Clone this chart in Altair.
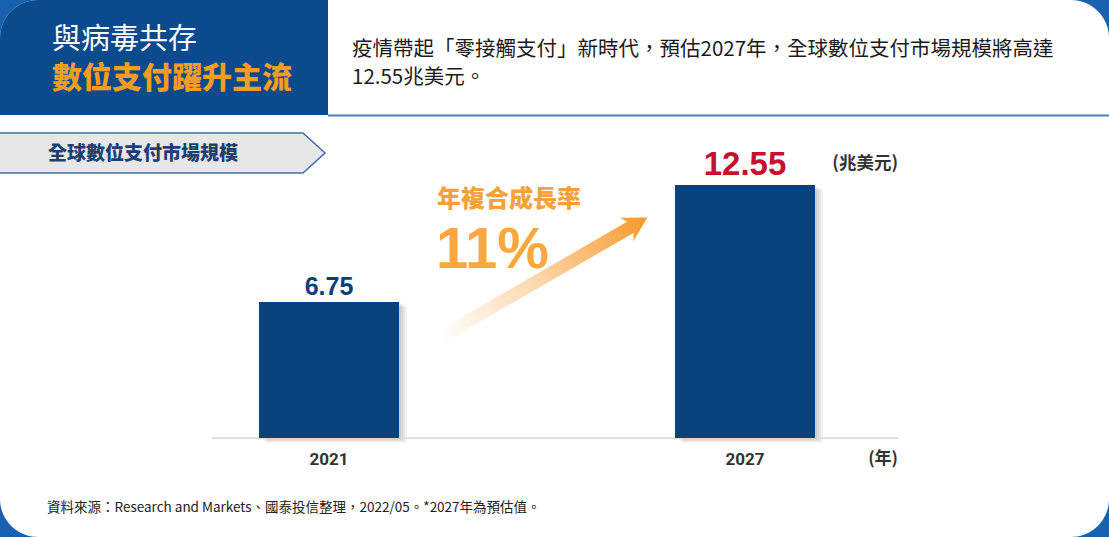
import altair as alt
import pandas as pd

# ---- data ----
years = ["2021", "2027"]
values = [6.75, 12.55]
value_labels = ["6.75", "12.55"]

title_line1 = "與病毒共存"
title_line2 = "數位支付躍升主流"
desc_line1 = "疫情帶起「零接觸支付」新時代，預估2027年，全球數位支付市場規模將高達"
desc_line2 = "12.55兆美元。"
tag_text = "全球數位支付市場規模"
cagr_title = "年複合成長率"
cagr_value = "11%"
unit_text = "(兆美元)"
year_unit = "(年)"
source_text = "資料來源：Research and Markets、國泰投信整理，2022/05。*2027年為預估值。"

df = pd.DataFrame({"year": years, "value": values, "label": value_labels})

CJK = "Noto Sans CJK TC"
NUM = "Liberation Sans, Arial, sans-serif"
W, H = 1109, 537

xs = alt.X("year:N", scale=alt.Scale(type="point", domain=years, range=[329, 745], padding=0), axis=None)
yscale = alt.Scale(domain=[0, 12.55], range=[438, 185], nice=False, zero=True)
ys = alt.Y("value:Q", scale=yscale, axis=None)

base = alt.Chart(df)
one = alt.Chart(pd.DataFrame({"k": [0]}))

# background + card
bg = one.mark_rect(color="#1761ae").encode(x=alt.value(0), x2=alt.value(W), y=alt.value(0), y2=alt.value(H))
card = one.mark_rect(color="#ffffff", cornerRadius=38).encode(x=alt.value(0), x2=alt.value(W), y=alt.value(0), y2=alt.value(H))
header = one.mark_rect(color="#0b4a8c", cornerRadiusTopLeft=38).encode(x=alt.value(0), x2=alt.value(328), y=alt.value(0), y2=alt.value(115))
sep = one.mark_rule(color="#4f80c0", strokeWidth=2).encode(x=alt.value(328), x2=alt.value(W), y=alt.value(115.5))

t1 = one.mark_text(text=title_line1, font=CJK, fontSize=29, fontWeight=400, color="#ffffff", align="left", baseline="middle").encode(x=alt.value(52), y=alt.value(40))
t2 = one.mark_text(text=title_line2, font=CJK, fontSize=30, fontWeight=900, color="#f59d1e", align="left", baseline="middle").encode(x=alt.value(52), y=alt.value(79))
d1 = one.mark_text(text=desc_line1, font=CJK, fontSize=20.5, fontWeight=400, color="#1a1a1a", align="left", baseline="middle").encode(x=alt.value(352), y=alt.value(50))
d2 = one.mark_text(text=desc_line2, font=CJK, fontSize=20.5, fontWeight=400, color="#1a1a1a", align="left", baseline="middle").encode(x=alt.value(352), y=alt.value(78))

# tag shape
tag_path = "M -1 -0.1194 L 0.8687 -0.1194 L 1 0 L 0.8687 0.1194 L -1 0.1194 Z"
tag = one.mark_point(shape=tag_path, size=335 * 335, fill="#e7e7e7", stroke="#3e6db0", strokeWidth=1.5,
                     filled=True, opacity=1, fillOpacity=1, strokeOpacity=1).encode(x=alt.value(157.5), y=alt.value(153))
tag_t = one.mark_text(text=tag_text, font=CJK, fontSize=19, fontWeight=900, color="#1c3f72", align="left", baseline="middle").encode(x=alt.value(48), y=alt.value(154))

# arrow
arrow_path = "M -1 -0.054 L 0.835 -0.054 L 0.80 -0.112 L 1 0 L 0.80 0.112 L 0.835 0.054 L -1 0.054 Z"
grad = alt.Gradient(gradient="linear", x1=0, x2=1, y1=0, y2=0,
                    stops=[alt.GradientStop(color="#ffffff", offset=0),
                           alt.GradientStop(color="#fcd9b0", offset=0.45),
                           alt.GradientStop(color="#f69a2c", offset=1)])
arrow = one.mark_point(shape=arrow_path, size=240 * 240, angle=330, fill=grad, filled=True,
                       opacity=1, fillOpacity=1, strokeWidth=0).encode(x=alt.value(543.5), y=alt.value(277.5))
c1 = one.mark_text(text=cagr_title, font=CJK, fontSize=24, fontWeight=900, color="#f5a23c", align="left", baseline="middle").encode(x=alt.value(437), y=alt.value(200))
c2 = one.mark_text(text=cagr_value, font=NUM, fontSize=58, fontWeight="bold", color="#f9a840", align="left", baseline="alphabetic").encode(x=alt.value(436), y=alt.value(268))

# bars
shadows = [base.mark_bar(size=140, color="#000000", opacity=0.05, xOffset=o, yOffset=o * 0.6).encode(x=xs, y=ys) for o in (2, 4, 6, 8)]
baseline = base.transform_aggregate(m="min(value)").transform_calculate(z="0").mark_rule(color="#d6d6d6", strokeWidth=1.5).encode(
    x=alt.value(212), x2=alt.value(898), y=alt.Y("z:Q", scale=yscale, axis=None))
bars = base.mark_bar(size=140, color="#07427f").encode(x=xs, y=ys)

lab1 = base.transform_filter(alt.datum.year == "2021").mark_text(font=NUM, fontSize=25, fontWeight="bold", color="#0b3f7c", baseline="alphabetic", dy=-7).encode(x=xs, y=ys, text="label:N")
lab2 = base.transform_filter(alt.datum.year == "2027").mark_text(font=NUM, fontSize=33, fontWeight="bold", color="#c8102e", baseline="alphabetic", dy=-10).encode(x=xs, y=ys, text="label:N")
unit = one.mark_text(text=unit_text, font=CJK, fontSize=17.5, fontWeight=700, color="#333333", align="right", baseline="middle").encode(x=alt.value(898), y=alt.value(164))

xl = base.mark_text(font="Liberation Sans Narrow, Roboto, sans-serif", fontSize=17, fontWeight="bold", color="#333333", baseline="middle").encode(x=xs, y=alt.value(460), text="year:N")
yu = one.mark_text(text=year_unit, font=CJK, fontSize=17, fontWeight=700, color="#333333", align="right", baseline="middle").encode(x=alt.value(898), y=alt.value(459))

src = one.mark_text(text=source_text, font=CJK, fontSize=13.5, fontWeight=400, color="#222222", align="left", baseline="middle").encode(x=alt.value(47), y=alt.value(508))

chart = alt.layer(bg, card, header, sep, t1, t2, d1, d2, tag, tag_t, *shadows, baseline, bars, arrow, c1, c2,
                  lab1, lab2, unit, xl, yu, src).properties(
    width=W, height=H, padding=0, autosize=alt.AutoSizeParams(type="none"), background="#ffffff"
).configure_view(stroke=None)

chart.save("out.html", embed_options={"renderer": "svg", "actions": False})
